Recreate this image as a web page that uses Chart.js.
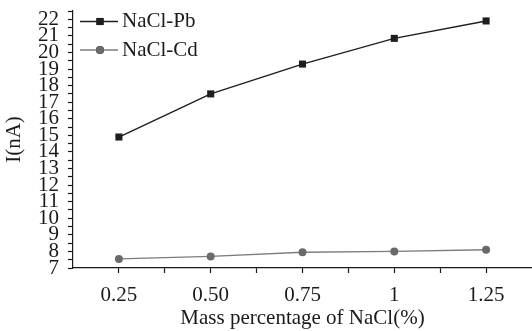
<!DOCTYPE html>
<html>
<head>
<meta charset="utf-8">
<script src="https://cdn.jsdelivr.net/npm/chart.js@4/dist/chart.umd.min.js"></script>
<style>
  html, body { margin: 0; padding: 0; background: #fff; }
  #wrap { width: 532px; height: 331px; }
</style>
</head>
<body>
<div id="wrap"><canvas id="chart" width="532" height="331"></canvas></div>
<script>
// values
const massPct = [0.25, 0.50, 0.75, 1, 1.25];
const tickLabels = ['0.25', '0.50', '0.75', '1', '1.25'];
const naclPb = [14.9, 17.5, 19.3, 20.85, 21.9];
const naclCd = [7.55, 7.7, 7.95, 8.0, 8.1];

const FONT = 'Liberation Serif, Times New Roman, serif';
const PB_COLOR = '#1e1e1e';
const CD_LINE = '#7c7c7c';
const CD_POINT = '#6a6a6a';

function toPoints(xs, ys) {
    return xs.map((x, i) => ({ x: x, y: ys[i] }));
}

// legend drawn inside the plot, line sample with marker in the middle
const innerLegend = {
    id: 'innerLegend',
    afterDraw(chart) {
        const ctx = chart.ctx;
        const rows = [{ y: 21.5, ds: chart.data.datasets[0] }, { y: 50, ds: chart.data.datasets[1] }];
        ctx.save();
        rows.forEach(r => {
            ctx.strokeStyle = r.ds.borderColor;
            ctx.lineWidth = r.ds.borderWidth;
            ctx.beginPath();
            ctx.moveTo(80, r.y);
            ctx.lineTo(118, r.y);
            ctx.stroke();
            Chart.helpers.drawPoint(ctx, {
                pointStyle: r.ds.pointStyle,
                radius: r.ds.pointRadius,
                rotation: 0,
                borderWidth: 0
            }, 100, r.y);
            ctx.fillStyle = r.ds.pointBackgroundColor;
            ctx.fill();
            ctx.fillStyle = '#1a1a1a';
            ctx.font = '21px ' + FONT;
            ctx.textBaseline = 'middle';
            ctx.textAlign = 'left';
            ctx.fillText(r.ds.label, 122, r.y);
        });
        ctx.restore();
    }
};

const ctx = document.getElementById('chart');
new Chart(ctx, {
    type: 'line',
    data: {
        datasets: [{
            label: 'NaCl-Pb',
            data: toPoints(massPct, naclPb),
            borderColor: PB_COLOR,
            backgroundColor: PB_COLOR,
            pointBackgroundColor: PB_COLOR,
            pointBorderWidth: 0,
            borderWidth: 1.4,
            pointStyle: 'rect',
            pointRadius: 5,
            tension: 0
        }, {
            label: 'NaCl-Cd',
            data: toPoints(massPct, naclCd),
            borderColor: CD_LINE,
            backgroundColor: CD_POINT,
            pointBackgroundColor: CD_POINT,
            pointBorderWidth: 0,
            borderWidth: 1.4,
            pointStyle: 'circle',
            pointRadius: 4,
            tension: 0
        }]
    },
    options: {
        responsive: false,
        animation: false,
        layout: { autoPadding: false, padding: { top: 11, right: 0, bottom: 0, left: 0 } },
        plugins: {
            legend: { display: false },
            tooltip: { enabled: false }
        },
        scales: {
            x: {
                type: 'linear',
                min: 0.125,
                max: 1.375,
                afterFit(scale) {
                    scale.height = 63;
                    scale.paddingLeft = 0;
                    scale.paddingRight = 0;
                },
                afterBuildTicks(scale) {
                    const t = [];
                    for (let v = 0.125; v <= 1.375; v += 0.125) t.push({ value: v });
                    scale.ticks = t;
                },
                border: { display: true, color: '#1a1a1a', width: 1.2 },
                grid: {
                    drawOnChartArea: false,
                    drawTicks: true,
                    tickLength: 5,
                    tickWidth: 1.2,
                    tickColor: c => (c.tick && (c.tick.value <= 0.126 || c.tick.value >= 1.374)) ? 'rgba(0,0,0,0)' : '#1a1a1a'
                },
                ticks: {
                    autoSkip: false,
                    maxRotation: 0,
                    padding: 10,
                    color: '#1a1a1a',
                    font: { family: FONT, size: 21 },
                    callback: v => {
                        const i = massPct.findIndex(m => Math.abs(m - v) < 1e-6);
                        return i >= 0 ? tickLabels[i] : '';
                    }
                },
                title: {
                    display: true,
                    text: 'Mass percentage of NaCl(%)',
                    color: '#1a1a1a',
                    font: { family: FONT, size: 21 },
                    padding: { top: 0, bottom: 0 }
                }
            },
            y: {
                min: 7,
                max: 22.5,
                afterFit(scale) {
                    scale.width = 73;
                    scale.paddingTop = 0;
                    scale.paddingBottom = 0;
                },
                border: { display: true, color: '#1a1a1a', width: 1.2 },
                grid: {
                    drawOnChartArea: false,
                    drawTicks: true,
                    tickLength: 5,
                    tickWidth: 1.2,
                    tickColor: '#1a1a1a'
                },
                ticks: {
                    stepSize: 0.5,
                    autoSkip: false,
                    padding: 9,
                    color: '#1a1a1a',
                    font: { family: FONT, size: 21 },
                    callback: v => (Number.isInteger(v) && v <= 22) ? String(v) : ''
                },
                title: {
                    display: true,
                    text: 'I(nA)',
                    color: '#1a1a1a',
                    font: { family: FONT, size: 21 },
                    padding: { top: 2, bottom: 0 }
                }
            }
        }
    },
    plugins: [innerLegend]
});
</script>
</body>
</html>
